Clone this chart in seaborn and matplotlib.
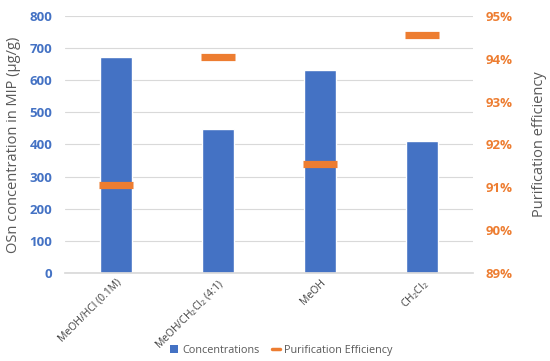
import matplotlib
matplotlib.use("Agg")
import matplotlib.pyplot as plt
import seaborn as sns
import pandas as pd
from matplotlib.lines import Line2D
from matplotlib.patches import Patch
from matplotlib.ticker import FuncFormatter

categories = ["MeOH/HCl (0.1M)", "MeOH/CH$_2$Cl$_2$ (4:1)", "MeOH", "CH$_2$Cl$_2$"]
concentrations = [673, 447, 633, 410]
efficiency = [91.05, 94.05, 91.55, 94.55]
left_ticks = [0, 100, 200, 300, 400, 500, 600, 700, 800]
right_ticks = [89, 90, 91, 92, 93, 94, 95]

BLUE = "#4472C4"
ORANGE = "#ED7D31"
GRAY = "#595959"

sns.set_theme(style="white")
plt.rcParams["font.family"] = ["Open Sans", "DejaVu Sans"]
plt.rcParams["mathtext.fontset"] = "custom"
plt.rcParams["mathtext.rm"] = "Open Sans"
plt.rcParams["mathtext.it"] = "Open Sans"

df = pd.DataFrame({"cat": categories, "conc": concentrations, "eff": efficiency})

fig = plt.figure(figsize=(5.5, 3.61), dpi=100)
ax = fig.add_axes([0.118, 0.244, 0.742, 0.712])
sns.barplot(data=df, x="cat", y="conc", color=BLUE, width=0.31, saturation=1, ax=ax, zorder=2)
ax.set_ylim(0, 800)
ax.set_yticks(left_ticks)
ax.yaxis.grid(True, color="#D9D9D9", linewidth=0.8, zorder=0)
ax.set_axisbelow(True)
for s in ["top", "right", "left"]:
    ax.spines[s].set_visible(False)
ax.spines["bottom"].set_color("#D9D9D9")
ax.tick_params(axis="y", length=0, labelcolor=BLUE, labelsize=9.5, pad=9)
for t in ax.get_yticklabels():
    t.set_fontweight("bold")
ax.tick_params(axis="x", length=0, labelsize=7.5, labelcolor="#404040", pad=3)
ax.set_xticks(range(len(categories)))
ax.set_xticklabels(categories, rotation=45, ha="right", rotation_mode="anchor")
ax.set_xlabel("")
ax.set_ylabel("OSn concentration in MIP (µg/g)", color=GRAY, fontsize=10.5, labelpad=6)
ax.set_xlim(-0.5, 3.5)

ax2 = ax.twinx()
ax2.plot(range(len(categories)), efficiency, linestyle="none", marker="_",
         markersize=24.5, markeredgewidth=5.2, color=ORANGE, zorder=3)
ax2.set_ylim(89, 95)
ax2.set_yticks(right_ticks)
ax2.yaxis.set_major_formatter(FuncFormatter(lambda v, p: f"{v:.0f}%"))
for s in ["top", "right", "left", "bottom"]:
    ax2.spines[s].set_visible(False)
ax2.tick_params(axis="y", length=0, labelcolor=ORANGE, labelsize=9.5, pad=9)
for t in ax2.get_yticklabels():
    t.set_fontweight("bold")
ax2.set_ylabel("Purification efficiency", color=GRAY, fontsize=10.5, labelpad=14)

handles = [Patch(facecolor=BLUE, edgecolor="none", label="Concentrations"),
           Line2D([0], [0], color=ORANGE, lw=2.5, label="Purification Efficiency")]
fig.legend(handles=handles, loc="center", bbox_to_anchor=(0.512, 0.03), ncol=2,
           frameon=False, fontsize=7.8, labelcolor=GRAY, handlelength=0.7,
           handleheight=0.7, columnspacing=1.2, handletextpad=0.4)

fig.savefig("out.png", dpi=100)
